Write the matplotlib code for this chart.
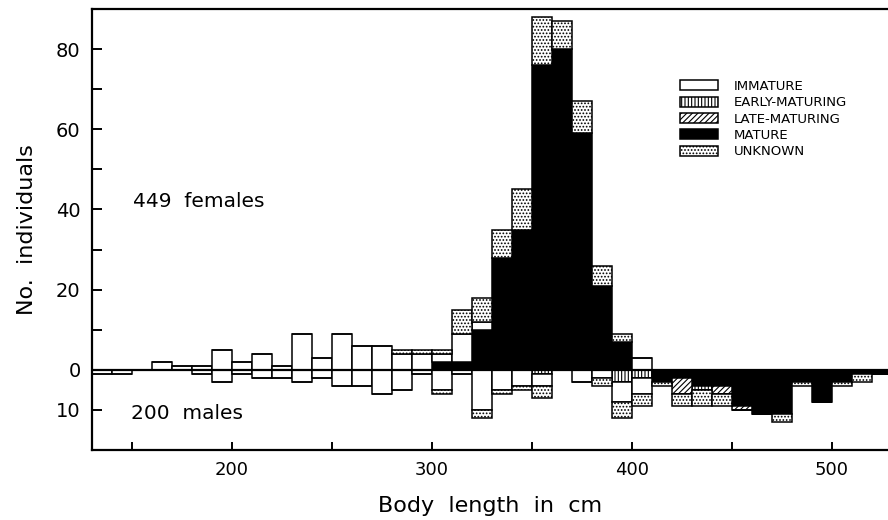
import matplotlib
matplotlib.use("Agg")
import matplotlib.pyplot as plt
from matplotlib.patches import Patch

plt.rcParams['hatch.linewidth'] = 0.8

# bin left edges (cm), 10 cm bins
bins = list(range(130, 530, 10))

# ---- females (counts above zero) ----
f_immature = [0, 0, 0, 2, 1, 1, 5, 2, 4, 1, 9, 3, 9, 6, 6, 4, 4, 2, 7, 2,
              0, 0, 0, 0, 0, 0, 0, 3, 0, 0, 0, 0, 0, 0, 0, 0, 0, 0, 0, 0]
f_early    = [0] * 40
f_late     = [0] * 40
f_mature   = [0, 0, 0, 0, 0, 0, 0, 0, 0, 0, 0, 0, 0, 0, 0, 0, 0, 2, 2, 10,
              28, 35, 76, 80, 59, 21, 7, 0, 0, 0, 0, 0, 0, 0, 0, 0, 0, 0, 0, 0]
f_unknown  = [0, 0, 0, 0, 0, 0, 0, 0, 0, 0, 0, 0, 0, 0, 0, 1, 1, 1, 6, 6,
              7, 10, 12, 7, 8, 5, 2, 0, 0, 0, 0, 0, 0, 0, 0, 0, 0, 0, 0, 0]

# ---- males (counts drawn below zero) ----
m_immature = [1, 1, 0, 0, 0, 1, 3, 1, 2, 2, 3, 2, 4, 4, 6, 5, 1, 5, 1, 10,
              5, 4, 3, 0, 3, 2, 5, 4, 0, 0, 0, 0, 0, 0, 0, 0, 0, 0, 0, 0]
m_early    = [0, 0, 0, 0, 0, 0, 0, 0, 0, 0, 0, 0, 0, 0, 0, 0, 0, 0, 0, 0,
              0, 0, 1, 0, 0, 0, 3, 2, 0, 0, 1, 0, 0, 0, 0, 0, 0, 0, 0, 0]
m_late     = [0, 0, 0, 0, 0, 0, 0, 0, 0, 0, 0, 0, 0, 0, 0, 0, 0, 0, 0, 0,
              0, 0, 0, 0, 0, 0, 0, 0, 0, 4, 0, 2, 1, 0, 0, 0, 0, 0, 0, 0]
m_mature   = [0, 0, 0, 0, 0, 0, 0, 0, 0, 0, 0, 0, 0, 0, 0, 0, 0, 0, 0, 0,
              0, 0, 0, 0, 0, 0, 0, 0, 3, 2, 4, 4, 9, 11, 11, 3, 8, 3, 1, 1]
m_unknown  = [0, 0, 0, 0, 0, 0, 0, 0, 0, 0, 0, 0, 0, 0, 0, 0, 0, 1, 0, 2,
              1, 1, 3, 0, 0, 2, 4, 3, 1, 3, 4, 3, 0, 0, 2, 1, 0, 1, 2, 0]

categories = ['IMMATURE', 'EARLY-MATURING', 'LATE-MATURING', 'MATURE', 'UNKNOWN']
yticks_major = [-10, 0, 20, 40, 60, 80]
ytick_labels = ['10', '0', '20', '40', '60', '80']
xtick_labels = [200, 300, 400, 500]

styles = {
    'IMMATURE':       dict(facecolor='white', hatch=None),
    'EARLY-MATURING': dict(facecolor='white', hatch='|||||'),
    'LATE-MATURING':  dict(facecolor='white', hatch='//////'),
    'MATURE':         dict(facecolor='black', hatch=None),
    'UNKNOWN':        dict(facecolor='white', hatch='.....'),
}

fig = plt.figure(figsize=(8.88, 5.2), dpi=100)
ax = fig.add_axes([0.1033, 0.1346, 0.8967, 0.8481])

# stacking order outward from zero
order = [('MATURE', f_mature, m_mature),
         ('EARLY-MATURING', f_early, m_early),
         ('LATE-MATURING', f_late, m_late),
         ('IMMATURE', f_immature, m_immature),
         ('UNKNOWN', f_unknown, m_unknown)]

fb = [0] * len(bins)
mb = [0] * len(bins)
for name, fv, mv in order:
    st = styles[name]
    ax.bar(bins, fv, width=10, bottom=fb, align='edge', facecolor=st['facecolor'],
           edgecolor='black', hatch=st['hatch'], linewidth=1.1, zorder=2)
    ax.bar(bins, [-v for v in mv], width=10, bottom=[-b for b in mb], align='edge',
           facecolor=st['facecolor'], edgecolor='black', hatch=st['hatch'],
           linewidth=1.1, zorder=2)
    fb = [a + b for a, b in zip(fb, fv)]
    mb = [a + b for a, b in zip(mb, mv)]

ax.axhline(0, color='black', linewidth=1.6, zorder=3)

ax.set_xlim(130, 528)
ax.set_ylim(-20, 90)

ax.set_yticks(yticks_major)
ax.set_yticklabels(ytick_labels)
ax.set_yticks([10, 30, 50, 70], minor=True)
ax.set_xticks([150, 200, 250, 300, 350, 400, 450, 500])
ax.set_xticklabels(['' if t not in xtick_labels else str(t)
                    for t in [150, 200, 250, 300, 350, 400, 450, 500]])

ax.tick_params(axis='y', which='both', direction='in', length=7, width=1.4,
               labelsize=14, pad=8)
ax.tick_params(axis='x', which='both', direction='in', length=6, width=1.4,
               labelsize=13, pad=8)

for s in ['left', 'bottom', 'top']:
    ax.spines[s].set_linewidth(1.6)
ax.spines['right'].set_visible(False)

ax.set_ylabel('No.  individuals', fontsize=16, labelpad=14)
ax.set_xlabel('Body  length  in  cm', fontsize=16, labelpad=12)

ax.text(150.5, 42, '449  females', fontsize=14.5, va='center', ha='left')
ax.text(149.5, -10.8, '200  males', fontsize=14.5, va='center', ha='left')

handles = [Patch(facecolor=styles[c]['facecolor'], edgecolor='black',
                 hatch=styles[c]['hatch'], linewidth=1.1) for c in categories]
leg = ax.legend(handles, categories, loc='upper left',
                bbox_to_anchor=(680 / 888, 1 - 80 / 520),
                bbox_transform=fig.transFigure, frameon=False,
                fontsize=9.5, handlelength=2.9, handleheight=0.8,
                labelspacing=0.25, handletextpad=1.2, borderpad=0,
                borderaxespad=0)

fig.savefig('out.png', dpi=100)
